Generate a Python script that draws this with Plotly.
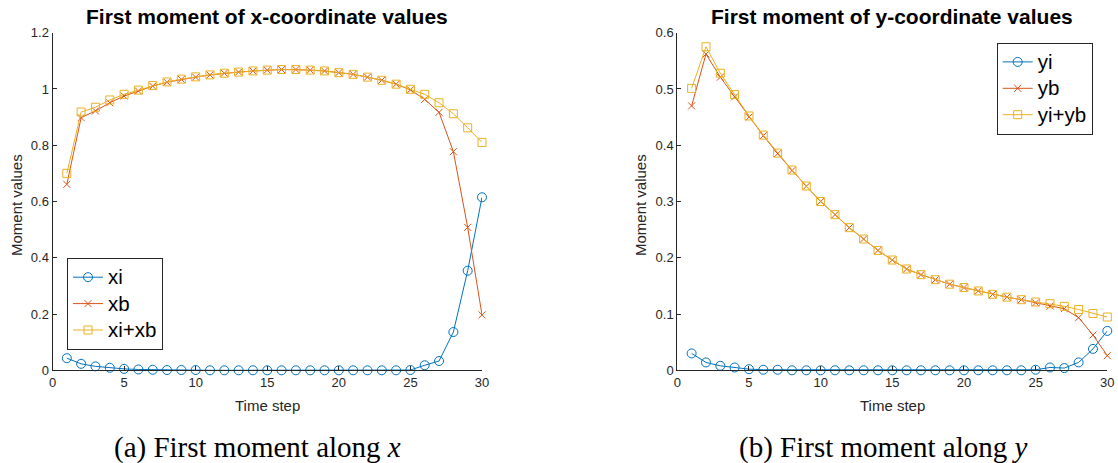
import plotly.graph_objects as go

# ---------------- data ----------------
t = list(range(1, 31))

xi = [0.043, 0.023, 0.014, 0.009, 0.005, 0.003, 0.002, 0.001, 0.001, 0.001,
      0.000, 0.000, 0.000, 0.000, 0.000, 0.000, 0.000, 0.000, 0.000, 0.000,
      0.000, 0.000, 0.000, 0.000, 0.001, 0.018, 0.033, 0.136, 0.354, 0.615]
xb = [0.661, 0.898, 0.922, 0.951, 0.975, 0.993, 1.010, 1.024, 1.034, 1.042,
      1.050, 1.056, 1.060, 1.064, 1.067, 1.069, 1.069, 1.067, 1.064, 1.058,
      1.052, 1.042, 1.031, 1.017, 0.997, 0.963, 0.917, 0.777, 0.508, 0.197]
xsum = [0.700, 0.918, 0.935, 0.961, 0.981, 0.996, 1.012, 1.025, 1.035, 1.043,
        1.050, 1.056, 1.060, 1.064, 1.067, 1.069, 1.069, 1.067, 1.064, 1.058,
        1.052, 1.042, 1.031, 1.017, 0.999, 0.981, 0.951, 0.912, 0.862, 0.810]

yi = [0.030, 0.014, 0.008, 0.005, 0.002, 0.001, 0.001, 0.000, 0.000, 0.000,
      0.000, 0.000, 0.000, 0.000, 0.000, 0.000, 0.000, 0.000, 0.000, 0.000,
      0.000, 0.000, 0.000, 0.000, 0.001, 0.005, 0.004, 0.014, 0.038, 0.070]
yb = [0.470, 0.562, 0.521, 0.486, 0.450, 0.417, 0.385, 0.355, 0.327, 0.300,
      0.2766, 0.2535, 0.2333, 0.213, 0.196, 0.180, 0.170, 0.161, 0.153, 0.147,
      0.141, 0.135, 0.130, 0.1255, 0.120, 0.114, 0.1095, 0.0935, 0.0627, 0.026]
ysum = [0.501, 0.575, 0.528, 0.490, 0.452, 0.418, 0.386, 0.356, 0.3275, 0.300,
        0.2766, 0.2535, 0.2333, 0.213, 0.196, 0.180, 0.170, 0.161, 0.153, 0.147,
        0.141, 0.135, 0.130, 0.1255, 0.1214, 0.1184, 0.1137, 0.108, 0.101, 0.0947]

x_ticks = [0, 5, 10, 15, 20, 25, 30]
y_ticks_left = [0, 0.2, 0.4, 0.6, 0.8, 1.0, 1.2]
y_ticks_left_text = ["0", "0.2", "0.4", "0.6", "0.8", "1", "1.2"]
y_ticks_right = [0, 0.1, 0.2, 0.3, 0.4, 0.5, 0.6]
y_ticks_right_text = ["0", "0.1", "0.2", "0.3", "0.4", "0.5", "0.6"]

# ---------------- style ----------------
W, H = 1118, 463
BLUE, ORANGE, YELLOW = "#0072BD", "#D95319", "#EDB120"
AX = "#262626"
SANS = "Liberation Sans, Arial, sans-serif"
SERIF = "Liberation Serif, Times New Roman, serif"

fig = go.Figure()


def add_series(x, y, name, color, symbol, size, xa, ya, legend):
    fig.add_trace(go.Scatter(
        x=x, y=y, mode="lines+markers",
        name="<span style='font-size:20.5px'>" + name + "</span>",
        line=dict(color=color, width=1),
        marker=dict(symbol=symbol, size=size, color=color,
                    line=dict(color=color, width=1)),
        xaxis=xa, yaxis=ya, legend=legend, cliponaxis=False,
    ))


add_series(t, xi, "xi", BLUE, "circle-open", 9, "x", "y", "legend")
add_series(t, xb, "xb", ORANGE, "x-thin-open", 7, "x", "y", "legend")
add_series(t, xsum, "xi+xb", YELLOW, "square-open", 8, "x", "y", "legend")

add_series(t, yi, "yi", BLUE, "circle-open", 9, "x2", "y2", "legend2")
add_series(t, yb, "yb", ORANGE, "x-thin-open", 7, "x2", "y2", "legend2")
add_series(t, ysum, "yi+yb", YELLOW, "square-open", 8, "x2", "y2", "legend2")

ydom = [92.7 / H, 430.3 / H]
xdom1 = [52.5 / W, 482.0 / W]
xdom2 = [677.3 / W, 1107.3 / W]


def axis_common():
    return dict(showline=True, linecolor=AX, linewidth=1, ticks="inside",
                ticklen=4, tickcolor=AX, tickwidth=1, showgrid=False,
                zeroline=False, mirror=False, automargin=False,
                tickfont=dict(family=SANS, size=13, color=AX))


legend_common = dict(
    bgcolor="white", bordercolor=AX, borderwidth=1,
    font=dict(family=SANS, size=18, color="black"),
    xanchor="left", yanchor="top", tracegroupgap=0,
)

fig.update_layout(
    template="none",
    width=W, height=H, autosize=False,
    margin=dict(l=0, r=0, t=0, b=0, pad=0),
    paper_bgcolor="white", plot_bgcolor="white",
    xaxis=dict(domain=xdom1, range=[0, 30], tickvals=x_ticks, anchor="y",
               **axis_common()),
    yaxis=dict(domain=ydom, range=[0, 1.2], tickvals=y_ticks_left,
               ticktext=y_ticks_left_text, anchor="x", **axis_common()),
    xaxis2=dict(domain=xdom2, range=[0, 30], tickvals=x_ticks, anchor="y2",
                **axis_common()),
    yaxis2=dict(domain=ydom, range=[0, 0.6], tickvals=y_ticks_right,
                ticktext=y_ticks_right_text, anchor="x2", **axis_common()),
    legend=dict(x=67 / W, y=1 - 258 / H, **legend_common),
    legend2=dict(x=996.7 / W, y=1 - 42.7 / H, **legend_common),
    showlegend=True,
)

ann = []
for cx, title, cap in [(267.0, "First moment of x-coordinate values",
                        "(a) First moment along <i>x</i>"),
                       (892.3, "First moment of y-coordinate values",
                        "(b) First moment along <i>y</i>")]:
    ann.append(dict(text="<b>" + title + "</b>", x=cx / W, y=1 - 17.0 / H,
                    xref="paper", yref="paper", xanchor="center",
                    yanchor="middle", showarrow=False,
                    font=dict(family=SANS, size=21, color="black")))
    ann.append(dict(text="Time step", x=cx / W, y=1 - 405 / H,
                    xref="paper", yref="paper", xanchor="center",
                    yanchor="middle", showarrow=False,
                    font=dict(family=SANS, size=15, color=AX)))
    ann.append(dict(text=cap, x=(cx - 9.5) / W, y=1 - 447 / H,
                    xref="paper", yref="paper", xanchor="center",
                    yanchor="middle", showarrow=False,
                    font=dict(family=SERIF, size=29, color="black")))
for lx in [16.0, 640.0]:
    ann.append(dict(text="Moment values", x=lx / W, y=1 - 205 / H,
                    xref="paper", yref="paper", xanchor="center",
                    yanchor="middle", showarrow=False, textangle=-90,
                    font=dict(family=SANS, size=15, color=AX)))
fig.update_layout(annotations=ann)

fig.write_html(
    "out.html",
    config={"displayModeBar": False},
    post_script="document.body.style.margin='0';document.body.style.overflow='hidden';",
)
